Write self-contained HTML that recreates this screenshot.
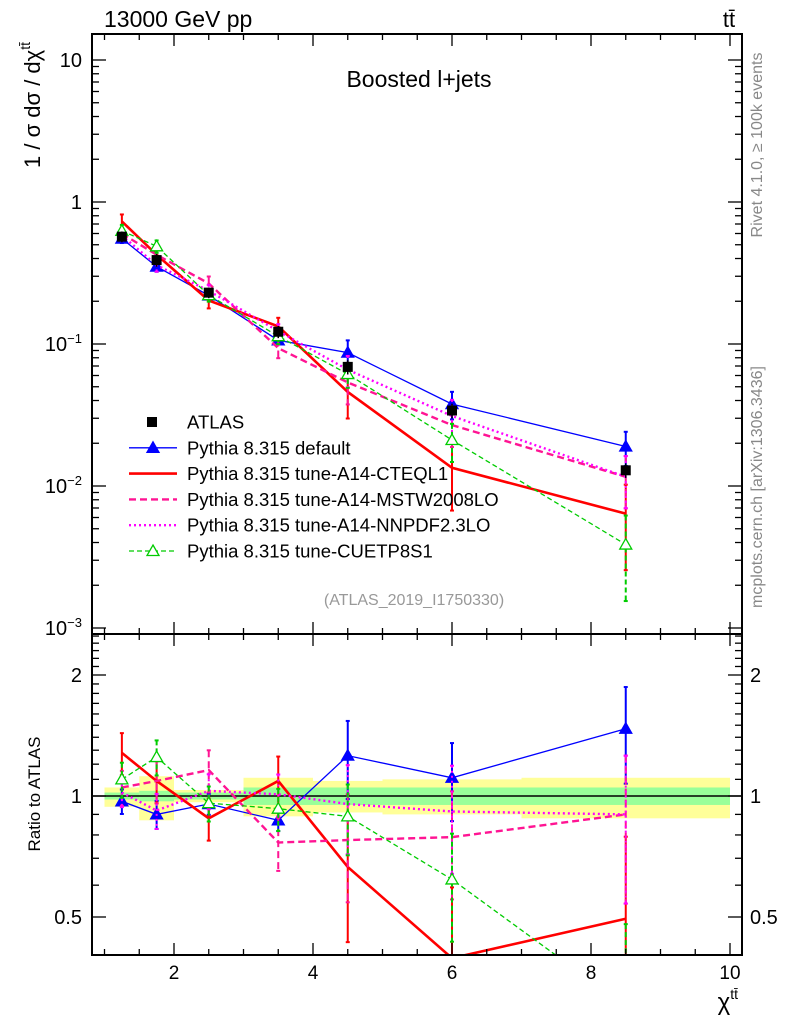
<!DOCTYPE html>
<html><head><meta charset="utf-8"><style>
body{margin:0;background:#fff;overflow:hidden}
svg{display:block;font-family:"Liberation Sans",sans-serif}
</style></head><body>
<svg id="c" width="786" height="1024" viewBox="0 0 786 1024" xmlns="http://www.w3.org/2000/svg">
<text x="104" y="27" font-size="23">13000 GeV pp</text>
<text x="729" y="27" font-size="22" text-anchor="middle">tt̄</text>
<text x="419" y="87" font-size="23" text-anchor="middle">Boosted l+jets</text>
<text x="414" y="605" font-size="16" fill="#999" text-anchor="middle">(ATLAS_2019_I1750330)</text>
<text transform="translate(762,145) rotate(-90)" font-size="16" fill="#888" text-anchor="middle">Rivet 4.1.0, ≥ 100k events</text>
<text transform="translate(762,487) rotate(-90)" font-size="16" fill="#888" text-anchor="middle">mcplots.cern.ch [arXiv:1306.3436]</text>
<text transform="translate(40,105) rotate(-90)" font-size="22" text-anchor="middle">1 / σ dσ / dχ<tspan font-size="14" dy="-10">tt̄</tspan></text>
<text transform="translate(40,794) rotate(-90)" font-size="17" text-anchor="middle">Ratio to ATLAS</text>
<text x="738" y="1010" font-size="24" text-anchor="end">χ<tspan font-size="14" dy="-11">tt̄</tspan></text>
<g id="g"></g>
</svg>
<script>
const xPts=[1.25,1.75,2.5,3.5,4.5,6,8.5];
const binEdges=[1,1.5,2,3,4,5,7,10];
const atlas=[0.57,0.39,0.23,0.122,0.069,0.034,0.0129];
const atlasErr=[0.05,0.04,0.02,0.012,0.008,0.004,0.0015];
const statUp=[0.02,0.03,0.02,0.05,0.05,0.05,0.05];
const totUp=[0.05,0.12,0.035,0.11,0.09,0.10,0.11];
const totDn=[0.06,0.13,0.035,0.11,0.09,0.10,0.12];
const rBlue=[0.97,0.90,0.955,0.87,1.26,1.11,1.47];
const rRed=[1.28,1.09,0.88,1.09,0.666,0.395,0.495];
const rMstw=[1.05,1.09,1.16,0.766,0.777,0.79,0.90];
const rNnpdf=[1.02,0.92,1.03,1.01,0.955,0.915,0.90];
const rGreen=[1.10,1.25,0.96,0.93,0.89,0.62,0.30];
const eBlue=[0.07,0.08,0.06,0.06,0.22,0.22,0.27];
const eRed=[0.12,0.12,0.12,0.15,0.35,0.5,0.6];
const eMstw=[0.1,0.12,0.12,0.15,0.3,0.3,0.4];
const eNnpdf=[0.08,0.1,0.1,0.12,0.25,0.3,0.4];
const eGreen=[0.1,0.1,0.1,0.12,0.2,0.3,0.6];
const NS="http://www.w3.org/2000/svg",G=document.getElementById('g');
const L=92,R=742,T=34,M=634,B=955;
const X=v=>104.5+69.5*(v-1);
const Y=v=>202-142*Math.log10(v);
const RY=v=>796-121*Math.log2(v);
const clamp=(y,a,b)=>Math.min(b,Math.max(a,y));
function mk(t,a,p){const e=document.createElementNS(NS,t);for(const k in a)e.setAttribute(k,a[k]);(p||G).appendChild(e);return e;}
const defs=mk('defs',{});
const cp1=mk('clipPath',{id:'cm'},defs);mk('rect',{x:L,y:T,width:R-L,height:M-T},cp1);
const cp2=mk('clipPath',{id:'cr'},defs);mk('rect',{x:L,y:M,width:R-L,height:B-M},cp2);
const bands=mk('g',{'clip-path':'url(#cr)'});


for(let i=0;i<7;i++){
 const x0=X(binEdges[i]),x1=X(binEdges[i+1]);
 const y=mk('rect',{x:x0,y:RY(1+totUp[i]),width:x1-x0,height:RY(1-totDn[i])-RY(1+totUp[i]),fill:'#ffff99'},bands);
 
 
 const g=mk('rect',{x:x0,y:RY(1+statUp[i]),width:x1-x0,height:RY(1-statUp[i])-RY(1+statUp[i]),fill:'#99ff99'},bands);
 
 
}
mk('line',{x1:L,x2:R,y1:RY(1),y2:RY(1),stroke:'#000','stroke-width':1.5});
const series=[
 {n:'pythia-default',r:rBlue,e:eBlue,c:'#0000ff',w:1.3,d:'',m:'tri'},
 {n:'pythia-cteql1',r:rRed,e:eRed,c:'#ff0000',w:2.6,d:'',m:''},
 {n:'pythia-mstw2008lo',r:rMstw,e:eMstw,c:'#ff1493',w:2.4,d:'7,4',m:''},
 {n:'pythia-nnpdf23lo',r:rNnpdf,e:eNnpdf,c:'#ff00ff',w:2.4,d:'2,3',m:''},
 {n:'pythia-cuetp8s1',r:rGreen,e:eGreen,c:'#00cc00',w:1.3,d:'5,3',m:'otri'}];
function tri(x,y,c,open,p){return mk('path',{d:`M${x},${y-6}L${x+6},${y+4.5}L${x-6},${y+4.5}Z`,fill:open?'#fff':c,stroke:c,'stroke-width':1.3},p);}
for(const s of series){
 for(const pan of ['m','r']){
  const gg=mk('g',{'clip-path':pan=='m'?'url(#cm)':'url(#cr)'});
  
  
  const raw=(i,f)=>pan=='m'?Y(Math.max(1e-5,atlas[i]*s.r[i]*f)):RY(Math.max(1e-3,s.r[i]*f));
  const yv=(i,f)=>pan=='m'?clamp(raw(i,f),T-20,M+20):clamp(raw(i,f),M-20,B+20);
  let d='';xPts.forEach((x,i)=>{d+=(i?'L':'M')+X(x)+','+clamp(raw(i,1),0,1020);});
  const ln=mk('path',{d,fill:'none',stroke:s.c,'stroke-width':s.w,'stroke-dasharray':s.d},gg);
  
  
  xPts.forEach((x,i)=>{
   const y1=yv(i,1+s.e[i]),y2=yv(i,Math.max(0.01,1-s.e[i]));
   mk('line',{x1:X(x),x2:X(x),y1,y2,stroke:s.c,'stroke-width':2,'stroke-dasharray':s.d},gg);
   mk('line',{x1:X(x)-2,x2:X(x)+2,y1,y2:y1,stroke:s.c,'stroke-width':2},gg);
   mk('line',{x1:X(x)-2,x2:X(x)+2,y1:y2,y2,stroke:s.c,'stroke-width':2},gg);
   if(s.m){const t=tri(X(x),yv(i,1),s.c,s.m=='otri',gg);
    
    }
  });
 }
}
xPts.forEach((x,i)=>{
 mk('line',{x1:X(x),x2:X(x),y1:Y(atlas[i]+atlasErr[i]),y2:Y(atlas[i]-atlasErr[i]),stroke:'#000','stroke-width':1.5});
 const r=mk('rect',{x:X(x)-5,y:Y(atlas[i])-5,width:10,height:10,fill:'#000'});
 
 
});
mk('rect',{x:L,y:T,width:R-L,height:M-T,fill:'none',stroke:'#000','stroke-width':2});
mk('rect',{x:L,y:M,width:R-L,height:B-M,fill:'none',stroke:'#000','stroke-width':2});
for(let v=1;v<=10.01;v+=0.5){const maj=Math.abs(v%2)<1e-6;const l=maj?12:6;
 for(const [a,b] of [[T,1],[M,-1],[M,1],[B,-1]])mk('line',{x1:X(v),x2:X(v),y1:a,y2:a+b*l,stroke:'#000','stroke-width':1.3});
 if(maj){const t=mk('text',{x:X(v),y:979,'font-size':19,'text-anchor':'middle'});t.textContent=v;
  
  }}
for(let e=-3;e<=1;e++){for(let k=1;k<10;k++){const v=k*Math.pow(10,e),y=Y(v);if(y<T||y>M)continue;
 const l=k==1?14:7;mk('line',{x1:L,x2:L+l,y1:y,y2:y,stroke:'#000','stroke-width':1.3});mk('line',{x1:R,x2:R-l,y1:y,y2:y,stroke:'#000','stroke-width':1.3});}
 const lab=e>=0?(e==0?'1':'10'):'10';const t=mk('text',{x:82,y:Y(Math.pow(10,e))+7,'font-size':20,'text-anchor':'end'});
 t.textContent=lab;if(e<0){const s=mk('tspan',{'font-size':13,dy:-8},t);s.textContent='−'+(-e);}
 
 }
const rTicks=[0.4,0.5,0.6,0.7,0.8,0.9,1,1.1,1.2,1.3,1.4,1.5,1.6,1.7,1.8,1.9,2,2.1,2.2,2.3,2.4,2.5];
for(const v of rTicks){const y=RY(v),l=[0.5,1,2].includes(v)?14:7;if(y<M||y>B)continue;
 mk('line',{x1:L,x2:L+l,y1:y,y2:y,stroke:'#000','stroke-width':1.3});mk('line',{x1:R,x2:R-l,y1:y,y2:y,stroke:'#000','stroke-width':1.3});
 if(l==14){for(const [xx,an] of [[82,'end'],[750,'start']]){const t=mk('text',{x:xx,y:y+7,'font-size':20,'text-anchor':an});t.textContent=v;
  
  }}}
const legNames=['ATLAS','Pythia 8.315 default','Pythia 8.315 tune-A14-CTEQL1','Pythia 8.315 tune-A14-MSTW2008LO','Pythia 8.315 tune-A14-NNPDF2.3LO','Pythia 8.315 tune-CUETP8S1'];
legNames.forEach((n,i)=>{const y=422+25.8*i;const lg=mk('g',{});
 
 
 if(i==0)mk('rect',{x:147,y:y-5,width:10,height:10,fill:'#000'},lg);
 else{const s=series[i-1];mk('line',{x1:129,x2:177,y1:y,y2:y,stroke:s.c,'stroke-width':s.w,'stroke-dasharray':s.d},lg);if(s.m)tri(153,y,s.c,s.m=='otri',lg);}
 const t=mk('text',{x:187,y:y+6.5,'font-size':18.5},lg);t.textContent=n;});
</script>
</body></html>
